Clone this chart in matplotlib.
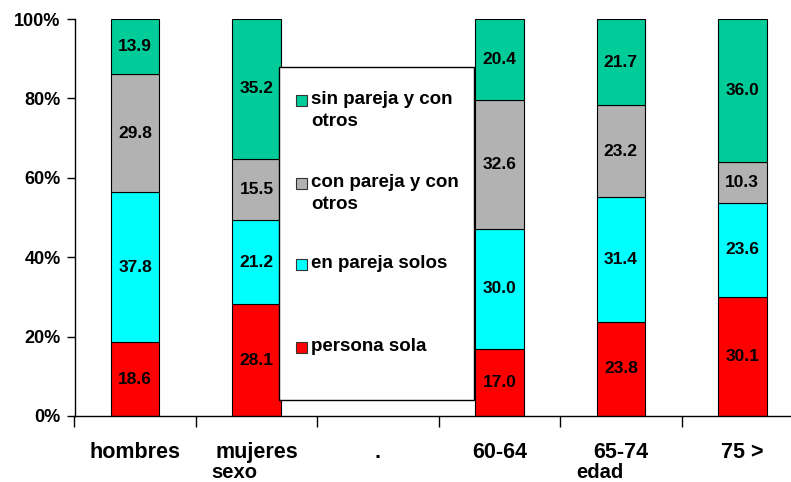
import matplotlib
matplotlib.use("Agg")
from matplotlib import pyplot as plt
from matplotlib.patches import Rectangle
import numpy as np

plt.rcParams['font.family'] = ['Liberation Sans', 'DejaVu Sans']
plt.rcParams['font.weight'] = 'bold'

categories = ["hombres", "mujeres", ".", "60-64", "65-74", "75 >"]
series_names = ["persona sola", "en pareja solos", "con pareja y con\notros", "sin pareja y con\notros"]
persona_sola = [18.6, 28.1, np.nan, 17.0, 23.8, 30.1]
en_pareja_solos = [37.8, 21.2, np.nan, 30.0, 31.4, 23.6]
con_pareja_otros = [29.8, 15.5, np.nan, 32.6, 23.2, 10.3]
sin_pareja_otros = [13.9, 35.2, np.nan, 20.4, 21.7, 36.0]
colors = ["#FF0000", "#00FFFF", "#B2B2B2", "#00CC99"]
group_labels = ["sexo", "edad"]

W, H = 791, 482
fig = plt.figure(figsize=(W / 100, H / 100), dpi=100)
ax = fig.add_axes([74.5 / W, (H - 416) / H, (803 - 74.5) / W, (416 - 19) / H])

data = np.array([persona_sola, en_pareja_solos, con_pareja_otros, sin_pareja_otros])
totals = np.nansum(data, axis=0)
totals[totals == 0] = 1
pct = data / totals * 100
x = np.arange(len(categories))
has = ~np.isnan(data[0])
bottom = np.zeros(len(categories))
for vals, raw, col, name in zip(pct, data, colors, series_names):
    v = np.nan_to_num(vals)
    ax.bar(x[has], v[has], 0.4, bottom=bottom[has], color=col, edgecolor="black", linewidth=0.8, label=name)
    for xi, b, h, r in zip(x, bottom, v, raw):
        if not np.isnan(r):
            ax.text(xi, b + h / 2, f"{r:.1f}", ha="center", va="center", fontsize=12.5, fontweight="bold")
    bottom += v

ax.set_xlim(-0.5, 5.5)
ax.set_ylim(0, 100)
ax.set_yticks(np.arange(0, 101, 20))
ax.set_yticklabels([f"{t}%" for t in range(0, 101, 20)], fontsize=13, fontweight="bold")
ax.set_xticks(np.arange(-0.5, 6, 1))
ax.set_xticklabels([])
ax.set_xticks(x, minor=True)
ax.set_xticklabels(categories, minor=True, fontsize=15.5, fontweight="bold")
ax.tick_params(axis="x", which="minor", length=0, pad=19)
ax.tick_params(axis="x", which="major", length=8, width=1, direction="out")
ax.tick_params(axis="y", length=6, width=1, direction="out", pad=4)
for s in ["top", "right"]:
    ax.spines[s].set_visible(False)
ax.spines["left"].set_linewidth(1)
ax.spines["bottom"].set_linewidth(1)

# group labels under the axis
ax.text(0.82, -0.142, group_labels[0], transform=ax.get_xaxis_transform(), ha="center", va="center", fontsize=14.5, fontweight="bold")
ax.text(3.83, -0.142, group_labels[1], transform=ax.get_xaxis_transform(), ha="center", va="center", fontsize=14.5, fontweight="bold")

# legend box drawn by hand
def px(xp, yp):
    return xp / W, 1 - yp / H

bx0, by0 = px(279, 400)
bx1, by1 = px(474, 67)
fig.patches.append(Rectangle((bx0, by0), bx1 - bx0, by1 - by0, transform=fig.transFigure,
                             facecolor="white", edgecolor="black", linewidth=1, zorder=5))
entry_y = [100, 183, 264, 347]
for yy, name, col in zip(entry_y, series_names[::-1], colors[::-1]):
    sx, sy = px(296, yy + 6)
    fig.patches.append(Rectangle((sx, sy), 11 / W, 11 / H, transform=fig.transFigure,
                                 facecolor=col, edgecolor="#333333", linewidth=0.8, zorder=6))
    tx, ty = px(311, yy - 9)
    fig.text(tx, ty, name, ha="left", va="top", fontsize=13.5, fontweight="bold", linespacing=1.35, zorder=7)

plt.savefig("out.png", dpi=100)
